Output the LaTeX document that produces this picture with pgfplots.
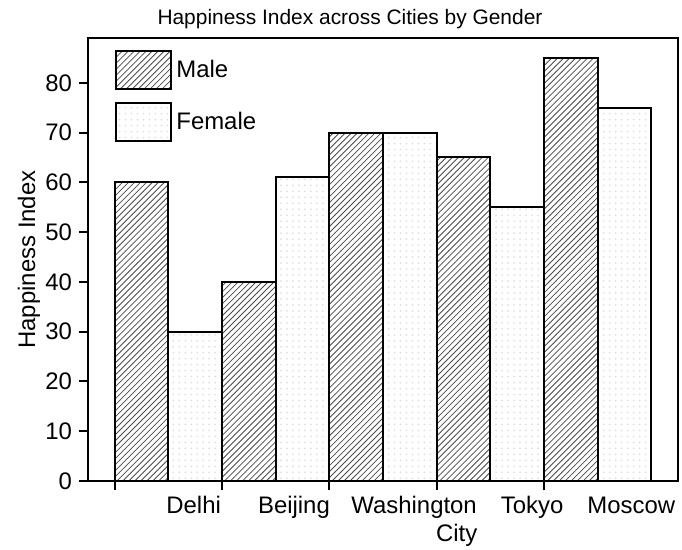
\documentclass[border=0pt]{standalone}
\usepackage{fontspec}
\setmainfont{Liberation Sans}
\usepackage{pgfplots}
\pgfplotsset{compat=1.18}
\usetikzlibrary{patterns}

\begin{document}
\begin{tikzpicture}
\begin{axis}[
  name=ax,
  scale only axis,
  width=295bp, height=221.5bp,
  ybar, bar width=1,
  xmin=-0.5, xmax=10.5,
  ymin=0, ymax=89,
  xtick={0,2,4,6,8}, xticklabels={},
  extra x ticks={1.47,3.34,5.58,7.78,9.63},
  extra x tick labels={Delhi,Beijing,Washington,Tokyo,Moscow},
  extra x tick style={major tick length=0pt,
    tick label style={anchor=base, yshift=-16bp}},
  ytick={0,10,...,80},
  tick align=outside, xtick pos=bottom, ytick pos=left,
  major tick length=4.5bp,
  tick style={line width=1pt, black},
  axis line style={line width=1.2pt},
  tick label style={font=\fontsize{12}{14}\selectfont},
  /pgf/number format/assume math mode=true,
  title={Happiness Index across Cities by Gender},
  title style={font=\fontsize{10.5}{12}\selectfont, at={(0.444,1)}, anchor=center, yshift=3.5bp},
  xlabel={City},
  xlabel style={font=\fontsize{12}{14}\selectfont, at={(axis description cs:0.625,-0.122)}, anchor=center},
  ylabel={Happiness Index},
  ylabel style={font=\fontsize{12}{14}\selectfont, at={(axis description cs:-0.1,0.5)}, anchor=center},
  legend style={at={(0.0458,0.973)}, anchor=north west, draw=none, fill=none,
    inner sep=0pt, row sep=6bp, font=\fontsize{12}{14}\selectfont},
  legend cell align=left,
  legend image code/.code={\draw[#1] (0bp,-9.5bp) rectangle (27.5bp,9.5bp);},
]
% male bars sit right of each group tick, female bars right of the male ones
\addplot[draw=black, line width=1pt, pattern=north east lines, pattern color=black!70, bar shift=0.5]
  coordinates {(0,60) (2,40) (4,70) (6,65) (8,85)};
\addplot[draw=black, line width=1pt, fill=white, postaction={pattern=dots, pattern color=black!12}, bar shift=1.5]
  coordinates {(0,30) (2,61) (4,70) (6,55) (8,75)};
\legend{Male,Female}
\end{axis}
\pgfresetboundingbox
\path (ax.south west) ++(-44bp,-34.5bp) rectangle ++(341bp,275bp);
\end{tikzpicture}
\end{document}
